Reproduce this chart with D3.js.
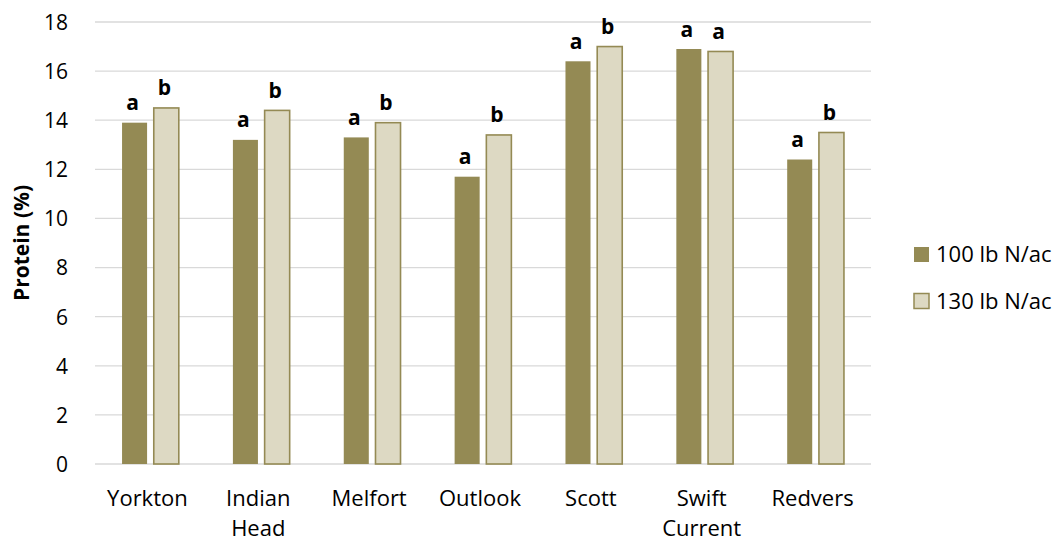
<!DOCTYPE html>
<html>
<head>
<meta charset="utf-8">
<script src="https://cdn.jsdelivr.net/npm/d3@7"></script>
<style>
  html, body { margin: 0; padding: 0; background: #ffffff; }
  svg { display: block; font-family: "Open Sans", "Liberation Sans", sans-serif; }
</style>
</head>
<body>
<svg id="chart" width="1062" height="542"></svg>
<script>
// Grain protein by site and nitrogen rate
const sites = [["Yorkton"], ["Indian", "Head"], ["Melfort"], ["Outlook"], ["Scott"], ["Swift", "Current"], ["Redvers"]];
const seriesNames = ["100 lb N/ac", "130 lb N/ac"];
const protein100 = [13.9, 13.2, 13.3, 11.7, 16.4, 16.9, 12.4];
const protein130 = [14.5, 14.4, 13.9, 13.4, 17.0, 16.8, 13.5];
const letters100 = ["a", "a", "a", "a", "a", "a", "a"];
const letters130 = ["b", "b", "b", "b", "b", "a", "b"];
const yTicks = [0, 2, 4, 6, 8, 10, 12, 14, 16, 18];
const yTitle = "Protein (%)";

const colors = { dark: "#948A54", light: "#DDD9C3", grid: "#D9D9D9" };

const svg = d3.select("#chart");
const plot = { left: 95, right: 871, top: 22, bottom: 464 };

const siteKeys = sites.map(s => s.join(" "));
const x0 = d3.scaleBand().domain(siteKeys).range([plot.left, plot.right]).padding(0);
const outer = x0.bandwidth() * 0.244;
const x1 = d3.scaleBand().domain(seriesNames).range([outer, x0.bandwidth() - outer]).paddingInner(0.211).paddingOuter(0);
const y = d3.scaleLinear().domain([0, 18]).range([plot.bottom, plot.top]);

// Gridlines
svg.append("g")
  .selectAll("line")
  .data(yTicks)
  .join("line")
  .attr("x1", plot.left).attr("x2", plot.right)
  .attr("y1", d => y(d)).attr("y2", d => y(d))
  .attr("stroke", colors.grid).attr("stroke-width", 1.3);

// Y axis labels
const yAxis = d3.axisLeft(y).tickValues(yTicks).tickSize(0).tickPadding(0).tickFormat(d3.format("d"));
const yg = svg.append("g").attr("transform", `translate(${plot.left - 27},0)`).call(yAxis);
yg.select(".domain").remove();
yg.selectAll("text")
  .attr("font-family", "'Open Sans', sans-serif")
  .attr("font-size", 21)
  .attr("fill", "#000")
  .attr("dy", "0.35em");

// Y title
svg.append("text")
  .attr("transform", `translate(29,${(plot.top + plot.bottom) / 2}) rotate(-90)`)
  .attr("text-anchor", "middle")
  .attr("font-size", 21)
  .attr("font-weight", "bold")
  .attr("fill", "#000")
  .text(yTitle);

// Bars
const rows = sites.map((s, i) => ({
  key: siteKeys[i],
  values: [
    { name: seriesNames[0], v: protein100[i], letter: letters100[i] },
    { name: seriesNames[1], v: protein130[i], letter: letters130[i] }
  ]
}));

const groups = svg.append("g")
  .selectAll("g")
  .data(rows)
  .join("g")
  .attr("transform", d => `translate(${x0(d.key)},0)`);

groups.selectAll("rect")
  .data(d => d.values)
  .join("rect")
  .attr("x", d => x1(d.name))
  .attr("width", x1.bandwidth())
  .attr("y", d => y(d.v))
  .attr("height", d => y(0) - y(d.v))
  .attr("fill", (d, i) => i === 0 ? colors.dark : colors.light)
  .attr("stroke", (d, i) => i === 0 ? "none" : colors.dark)
  .attr("stroke-width", 1.6);

// Significance letters
groups.selectAll("text.sig")
  .data(d => d.values)
  .join("text")
  .attr("class", "sig")
  .attr("x", d => x1(d.name) + x1.bandwidth() / 2 - 2)
  .attr("y", d => y(d.v) - 12.5)
  .attr("text-anchor", "middle")
  .attr("font-size", 21)
  .attr("font-weight", "bold")
  .attr("fill", "#000")
  .text(d => d.letter);

// Category labels
const xg = svg.append("g");
sites.forEach((lines, i) => {
  const cx = x0(siteKeys[i]) + x0.bandwidth() / 2 - 3;
  const t = xg.append("text")
    .attr("x", cx)
    .attr("y", 506)
    .attr("text-anchor", "middle")
    .attr("font-size", 22)
    .attr("fill", "#000");
  lines.forEach((line, j) => {
    t.append("tspan")
      .attr("x", cx)
      .attr("dy", j === 0 ? 0 : 30)
      .text(line);
  });
});

// Legend
const legend = svg.append("g").attr("transform", "translate(914,247)");
const items = legend.selectAll("g")
  .data(seriesNames)
  .join("g")
  .attr("transform", (d, i) => `translate(0,${i * 46.5})`);
items.append("rect")
  .attr("width", 15).attr("height", 15)
  .attr("fill", (d, i) => i === 0 ? colors.dark : colors.light)
  .attr("stroke", (d, i) => i === 0 ? "none" : colors.dark)
  .attr("stroke-width", 1.5);
items.append("text")
  .attr("x", 22)
  .attr("y", 7.5)
  .attr("dy", "0.36em")
  .attr("font-size", 22)
  .attr("fill", "#000")
  .text(d => d);
</script>
</body>
</html>
